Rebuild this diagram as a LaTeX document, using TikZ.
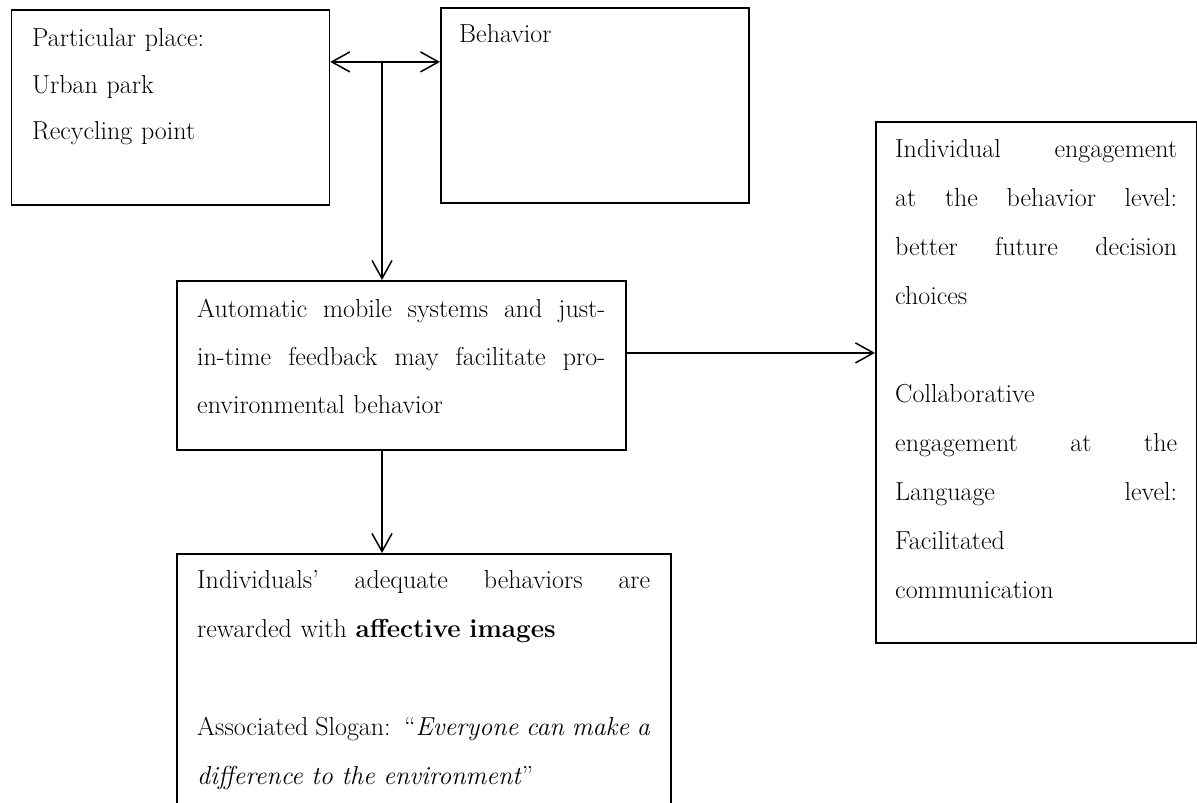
\documentclass[tikz,border=0pt]{standalone}
\usetikzlibrary{arrows.meta}
\setlength\parindent{0pt}
% a full, justified line of the given width (the font's own stretchable spaces)
\newcommand\jl[2]{\makebox[#1][s]{\spaceskip=0pt\xspaceskip=0pt\relax#2}}
% fixed height for the first line, so the first baseline sits 20pt below the top
\newcommand\fl{\rule{0pt}{20pt}}
\begin{document}
\begin{tikzpicture}[x=1pt,y=-1pt,
  box/.style={draw, line width=1.8pt, anchor=north west, inner sep=0pt},
  txt/.style={anchor=north west, inner sep=0pt, align=left,
              font=\fontsize{26}{48.5}\selectfont},
  arr/.style={line width=1.5pt, -{Straight Barb[length=18pt,width=20pt]}},
  darr/.style={line width=1.5pt, {Straight Barb[length=18pt,width=20pt]}-{Straight Barb[length=18pt,width=20pt]}}
]
\useasboundingbox (0,0) rectangle (1197,803);
\clip (0,0) rectangle (1197,803);

% boxes
\node[box, minimum width=318pt, minimum height=195pt] (A) at (10.5,9) {};
\node[box, minimum width=308pt, minimum height=195pt] (B) at (440,7) {};
\node[box, minimum width=449pt, minimum height=169pt] (C) at (176,280) {};
\node[box, minimum width=494pt, minimum height=300pt] (D) at (176,553) {};
\node[box, minimum width=321pt, minimum height=521pt] (E) at (875,121) {};

% texts
\node[txt, text width=280pt, font=\fontsize{26}{46.5}\selectfont] (At) at (32,26.5)
  {\fl Particular place:\\ Urban park\\ Recycling point};
\node[txt, text width=270pt] (Bt) at (459,22) {\fl Behavior};
\node[txt, text width=408pt, font=\fontsize{26}{48}\selectfont] (Ct) at (197,297)
  {\fl\jl{408pt}{Automatic mobile systems and just-}\\
   \jl{408pt}{in-time feedback may facilitate pro-}\\
   environmental behavior};
\node[txt, text width=453pt, font=\fontsize{26}{49}\selectfont] (Dt) at (197,568)
  {\fl\jl{453pt}{Individuals’ adequate behaviors are}\\
   rewarded with \textbf{affective images}\\[49pt]
   \jl{453pt}{Associated Slogan:\ \ “\textit{Everyone can make a}}\\
   \textit{difference to the environment}”};
\node[txt, text width=282pt, font=\fontsize{26}{49}\selectfont] (Et) at (895,137)
  {\fl\jl{282pt}{Individual engagement}\\
   \jl{282pt}{at the behavior level:}\\
   \jl{282pt}{better future decision}\\
   choices\\[49pt]
   Collaborative\\
   \jl{282pt}{engagement at the}\\
   \jl{282pt}{Language level:}\\
   Facilitated\\
   communication};

% connectors
\draw[darr] ([yshift=45.5pt]A.east) -- ([yshift=45.5pt]A.east -| B.west);
\coordinate (j) at (382,61);
\draw[arr] (j) -- (j |- C.north);
\draw[arr] (j |- C.south) -- (j |- D.north);
\draw[arr] ([yshift=12.5pt]C.east) -- ([yshift=12.5pt]C.east -| E.west);
\end{tikzpicture}
\end{document}
